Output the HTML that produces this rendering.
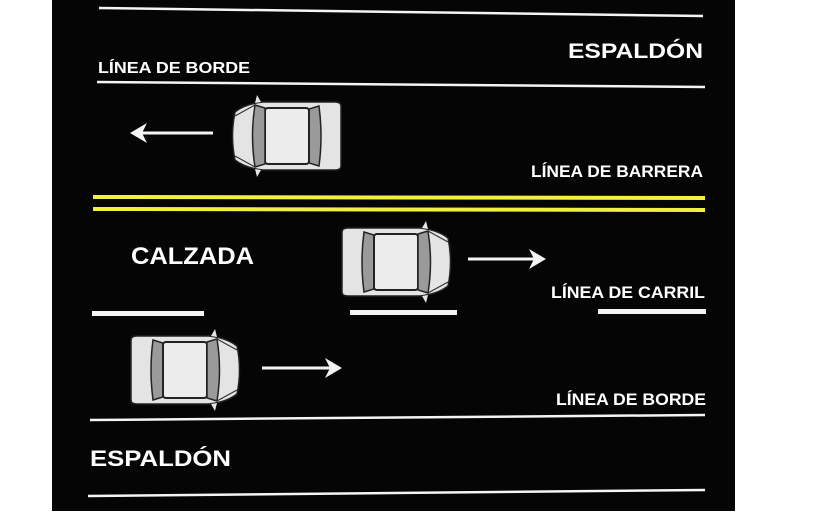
<!DOCTYPE html>
<html><head><meta charset="utf-8"><style>
html,body{margin:0;padding:0;background:#fff;width:825px;height:516px;overflow:hidden}
svg{display:block}
text{font-family:"Liberation Sans",sans-serif;font-weight:bold;fill:#fff}
</style></head><body>
<svg width="825" height="516" viewBox="0 0 825 516">
<defs>
<g id="car">
 <path d="M0,4 Q0,0 6,0 L78,0 Q96,2 106,10 Q111,34 106,58 Q96,66 78,68 L6,68 Q0,68 0,64 Z" fill="#e4e4e4" stroke="#222" stroke-width="1.5"/>
 <path d="M22,4 L32,7 L32,61 L22,64 Q18,34 22,4Z" fill="#9a9a9a" stroke="#222" stroke-width="1.5"/>
 <rect x="32" y="6" width="44" height="56" rx="3" fill="#ececec" stroke="#222" stroke-width="2"/>
 <path d="M76,6 L86,3 Q91,34 86,65 L76,62 Z" fill="#9a9a9a" stroke="#222" stroke-width="1.5"/>
 <path d="M86,3 L106,14 M86,65 L106,54" stroke="#333" stroke-width="1.2"/>
 <path d="M80,0 L84,-7 L86,1Z M80,68 L84,75 L86,67Z" fill="#e4e4e4"/>
</g>
</defs>
<rect x="52" y="0" width="683" height="511" fill="#050505"/>
<g stroke="#f4f4f4" stroke-width="2.5" fill="none">
 <path d="M99,8 L703,16"/>
 <path d="M97,82 L705,87"/>
 <path d="M90,420 L705,415"/>
 <path d="M88,496 L705,490"/>
</g>
<g stroke="#f0f040" stroke-width="4">
 <path d="M93,197 L705,198"/>
 <path d="M93,209 L705,210"/>
</g>
<g fill="#f4f4f4">
 <rect x="92" y="311" width="112" height="5"/>
 <rect x="350" y="310" width="107" height="5"/>
 <rect x="598" y="309" width="108" height="5"/>
</g>
<use href="#car" transform="translate(341,102) scale(-1,1)"/>
<use href="#car" transform="translate(342,228)"/>
<use href="#car" transform="translate(131,336)"/>
<g stroke="#f4f4f4" stroke-width="3" fill="none">
 <path d="M213,133 L140,133"/>
 <path d="M468,259 L535,259"/>
 <path d="M262,368 L330,368"/>
</g>
<g fill="#f4f4f4">
 <path d="M130,133 L147,123 L142,133 L147,143Z"/>
 <path d="M546,259 L529,249 L534,259 L529,269Z"/>
 <path d="M342,368 L325,358 L330,368 L325,378Z"/>
</g>
<text x="568" y="58" font-size="21" textLength="135" lengthAdjust="spacingAndGlyphs">ESPALDÓN</text>
<text x="98" y="73" font-size="16" textLength="152" lengthAdjust="spacingAndGlyphs">LÍNEA DE BORDE</text>
<text x="531" y="177" font-size="17" textLength="172" lengthAdjust="spacingAndGlyphs">LÍNEA DE BARRERA</text>
<text x="131" y="264" font-size="24" textLength="123" lengthAdjust="spacingAndGlyphs">CALZADA</text>
<text x="551" y="298" font-size="17" textLength="154" lengthAdjust="spacingAndGlyphs">LÍNEA DE CARRIL</text>
<text x="556" y="405" font-size="17" textLength="150" lengthAdjust="spacingAndGlyphs">LÍNEA DE BORDE</text>
<text x="90" y="466" font-size="22" textLength="141" lengthAdjust="spacingAndGlyphs">ESPALDÓN</text>
</svg>
</body></html>
